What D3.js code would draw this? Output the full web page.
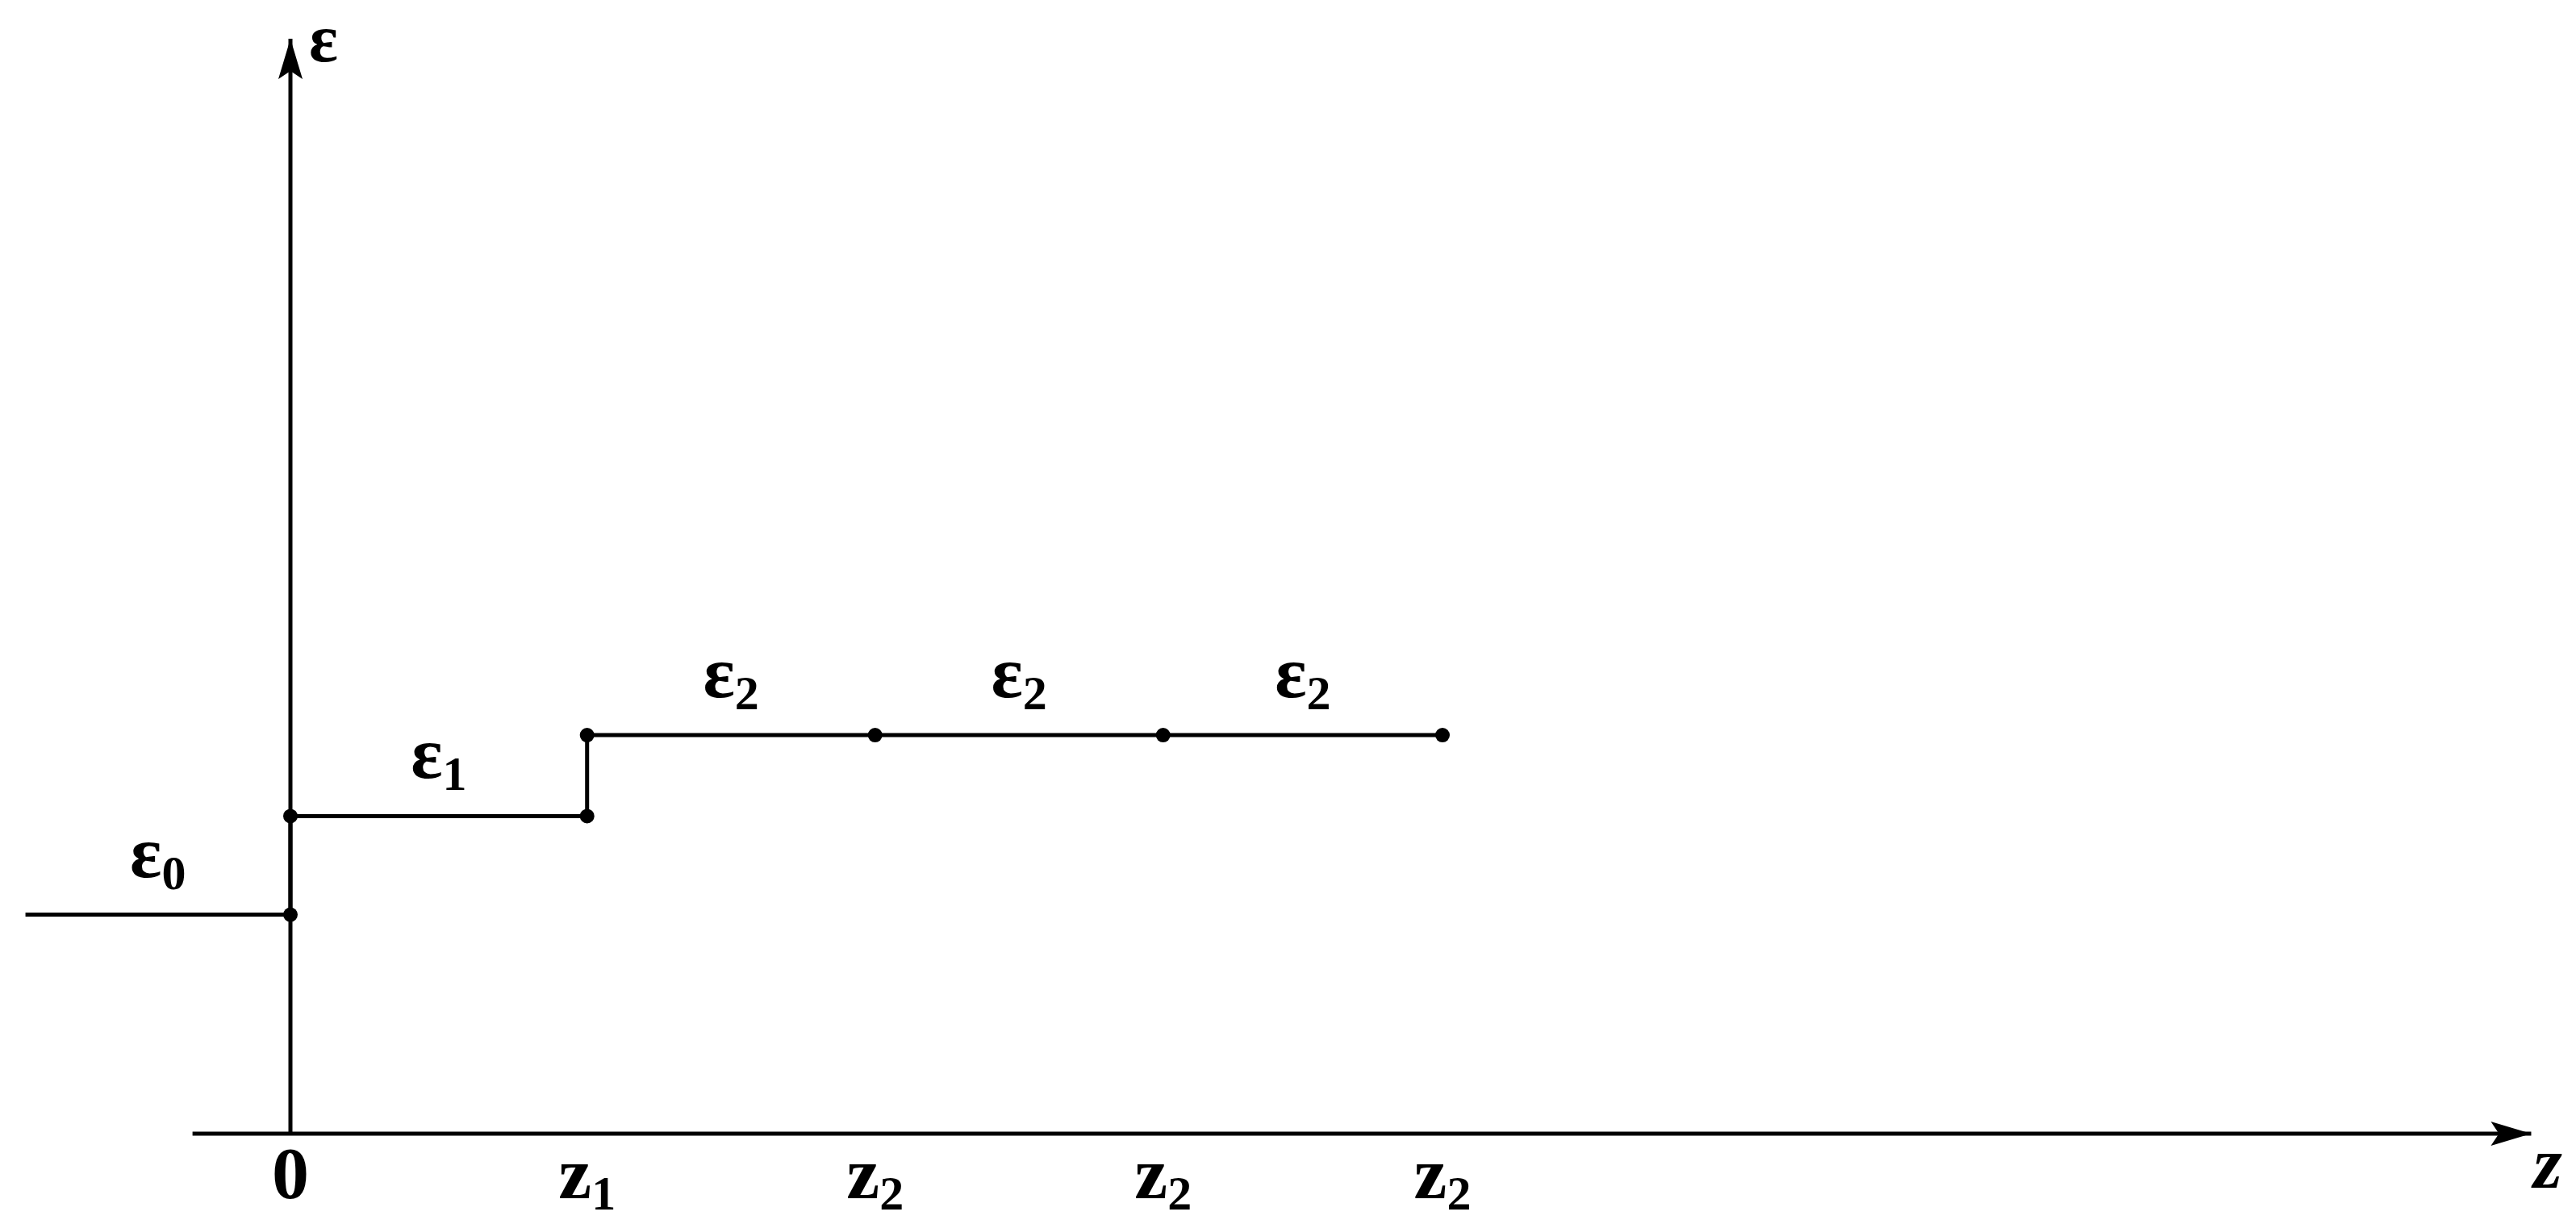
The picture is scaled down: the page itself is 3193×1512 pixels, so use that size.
<!DOCTYPE html>
<html>
<head>
<meta charset="utf-8">
<script src="https://cdn.jsdelivr.net/npm/d3@7"></script>
<style>
  body { margin: 0; background: #fff; }
  text { font-family: "Liberation Serif", "DejaVu Serif", serif; font-weight: bold; fill: #000; }
</style>
</head>
<body>
<div id="chart"></div>
<script>
// layer boundaries along z (units of layer thickness)
var zNodes = [0, 1.03, 2.03, 3.03, 4.0];
var zTickBase = ["0", "z", "z", "z", "z"];
var zTickSub = ["", "1", "2", "2", "2"];

// permittivity of each layer: ε0 outside, then ε1, ε2, ε2, ε2
var layerStart = [-0.92, 0, 1.03, 2.03, 3.03];
var layerEnd = [0, 1.03, 2.03, 3.03, 4.0];
var layerEps = [1.0, 1.45, 1.82, 1.82, 1.82];
var layerSub = ["0", "1", "2", "2", "2"];

// marked points on the profile
var dotZ = [0, 0, 1.03, 1.03, 2.03, 3.03, 4.0];
var dotEps = [1.0, 1.45, 1.45, 1.82, 1.82, 1.82, 1.82];

var width = 3193, height = 1512;

var svg = d3.select("#chart").append("svg")
  .attr("width", width)
  .attr("height", height);

var x = d3.scaleLinear().domain([0, 4]).range([360, 1788]);
var y = d3.scaleLinear().domain([0, 5]).range([1405, 48]);

// arrow heads
var defs = svg.append("defs");
defs.append("marker")
  .attr("id", "arrow")
  .attr("markerUnits", "userSpaceOnUse")
  .attr("viewBox", "-52 -16 54 32")
  .attr("refX", 0)
  .attr("refY", 0)
  .attr("markerWidth", 54)
  .attr("markerHeight", 32)
  .attr("orient", "auto")
  .append("path")
    .attr("d", "M0,0 L-50,-15 L-40,0 L-50,15 Z")
    .attr("fill", "#000");

// axes
svg.append("line")
  .attr("x1", x(-0.34)).attr("y1", y(0))
  .attr("x2", x(7.78)).attr("y2", y(0))
  .attr("stroke", "#000").attr("stroke-width", 5)
  .attr("marker-end", "url(#arrow)");

svg.append("line")
  .attr("x1", x(0)).attr("y1", y(0))
  .attr("x2", x(0)).attr("y2", y(5))
  .attr("stroke", "#000").attr("stroke-width", 5)
  .attr("marker-end", "url(#arrow)");

// step profile
var pts = layerStart.map(function(s, i) { return [s, layerEps[i]]; });
pts.push([layerEnd[layerEnd.length - 1], layerEps[layerEps.length - 1]]);

var line = d3.line()
  .x(function(d) { return x(d[0]); })
  .y(function(d) { return y(d[1]); })
  .curve(d3.curveStepAfter);

svg.append("path")
  .attr("d", line(pts))
  .attr("fill", "none")
  .attr("stroke", "#000")
  .attr("stroke-width", 5);

svg.selectAll(".dot")
  .data(dotZ)
  .enter()
  .append("circle")
    .attr("class", "dot")
    .attr("cx", function(d) { return x(d); })
    .attr("cy", function(d, i) { return y(dotEps[i]); })
    .attr("r", 9)
    .attr("fill", "#000");

// layer labels ε_i
var epsLabels = svg.selectAll(".eps")
  .data(layerSub)
  .enter()
  .append("text")
    .attr("class", "eps")
    .attr("x", function(d, i) { return x((layerStart[i] + layerEnd[i]) / 2); })
    .attr("y", function(d, i) { return y(layerEps[i]) - 47; })
    .attr("text-anchor", "middle")
    .style("font-size", "92px");
epsLabels.append("tspan").text("ε");
epsLabels.append("tspan")
  .attr("dy", 15)
  .style("font-size", "60px")
  .text(function(d) { return d; });

// tick labels along z
var ticks = svg.selectAll(".tick")
  .data(zNodes)
  .enter()
  .append("text")
    .attr("class", "tick")
    .attr("x", function(d) { return x(d); })
    .attr("y", 1485)
    .attr("text-anchor", "middle")
    .style("font-size", "92px");
ticks.append("tspan").text(function(d, i) { return zTickBase[i]; });
ticks.append("tspan")
  .attr("dy", 14)
  .style("font-size", "60px")
  .text(function(d, i) { return zTickSub[i]; });

// axis names
svg.append("text")
  .attr("x", 401).attr("y", 76)
  .attr("text-anchor", "middle")
  .style("font-size", "84px")
  .text("ε");

svg.append("text")
  .attr("x", 3158).attr("y", 1472)
  .attr("text-anchor", "middle")
  .style("font-size", "92px")
  .style("font-style", "italic")
  .text("z");
</script>
</body>
</html>
